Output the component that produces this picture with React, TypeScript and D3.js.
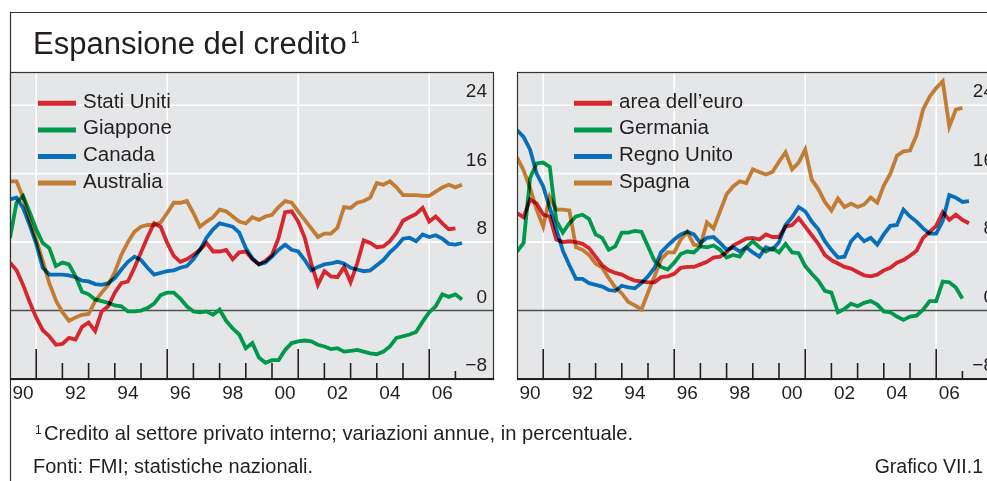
import React, { useEffect, useRef } from 'react';
import * as d3 from 'd3';

// quarterly observations, first one is 1990 Q1
const startYear = 1990;

const statiUniti = [5.6, 4.7, 3.0, 1.0, -0.8, -2.3, -3.0, -4.0, -3.9, -3.2, -3.4, -1.9, -1.4, -2.4, -0.1, 0.5, 2.1, 3.2, 3.4, 5.0, 6.8, 8.6, 10.2, 9.8, 7.9, 6.4, 5.7, 6.0, 6.5, 7.1, 7.9, 6.9, 6.9, 7.1, 6.0, 6.8, 6.9, 6.0, 5.4, 5.8, 6.5, 8.5, 11.5, 11.6, 10.4, 8.5, 5.5, 3.0, 4.6, 4.0, 3.9, 5.1, 3.3, 5.5, 8.2, 7.9, 7.4, 7.5, 8.1, 9.1, 10.5, 10.9, 11.3, 12.0, 10.4, 11.0, 10.2, 9.5, 9.6];
const giappone = [8.5, 12.6, 13.4, 11.5, 9.5, 7.9, 7.3, 5.2, 5.6, 5.4, 4.0, 2.2, 1.9, 1.3, 1.1, 0.9, 0.6, 0.5, -0.1, -0.1, 0.0, 0.3, 0.8, 1.8, 2.1, 2.1, 1.4, 0.5, -0.1, -0.2, -0.1, -0.5, 0.1, -1.2, -2.1, -2.8, -4.4, -3.8, -5.5, -6.1, -5.8, -5.8, -4.6, -3.8, -3.6, -3.5, -3.6, -4.0, -4.2, -4.5, -4.4, -4.8, -4.7, -4.6, -4.8, -5.0, -5.1, -4.8, -4.2, -3.2, -3.0, -2.8, -2.5, -1.3, -0.2, 0.5, 1.9, 1.6, 1.9, 1.3];
const canada = [13.0, 13.2, 12.0, 10.0, 7.8, 5.0, 4.2, 4.2, 4.2, 4.1, 3.9, 3.5, 3.4, 3.1, 3.0, 3.2, 3.8, 4.8, 5.7, 6.3, 5.9, 5.0, 4.2, 4.4, 4.6, 4.7, 5.0, 5.2, 6.0, 7.1, 8.5, 9.5, 10.2, 10.0, 9.8, 9.1, 7.3, 6.1, 5.4, 5.6, 6.3, 7.1, 7.7, 7.1, 6.9, 5.9, 4.7, 5.1, 5.4, 5.5, 5.7, 5.5, 5.0, 4.8, 4.6, 4.7, 5.3, 5.9, 6.8, 7.5, 8.4, 8.5, 8.1, 8.9, 8.6, 8.8, 8.4, 7.8, 7.7, 7.9];
const australia = [15.1, 15.1, 13.2, 10.5, 8.3, 5.8, 3.2, 1.2, -0.2, -1.2, -0.8, -0.5, -0.4, 1.1, 2.1, 3.0, 4.5, 6.5, 8.0, 9.2, 9.8, 10.0, 10.0, 10.3, 11.4, 12.6, 12.6, 12.8, 11.4, 9.8, 10.4, 10.9, 11.8, 11.6, 11.0, 10.4, 10.2, 10.9, 10.6, 11.0, 11.2, 12.1, 12.8, 12.6, 11.6, 10.6, 9.6, 8.6, 9.0, 9.0, 9.7, 12.1, 12.0, 12.6, 12.8, 13.2, 14.9, 14.7, 15.1, 14.4, 13.5, 13.5, 13.5, 13.4, 13.4, 13.9, 14.4, 14.7, 14.4, 14.7];

const areaEuro = [11.4, 10.9, 13.0, 12.5, 11.2, 11.0, 8.3, 8.0, 8.1, 8.0, 7.8, 7.3, 6.3, 5.3, 4.7, 4.4, 4.2, 3.8, 3.5, 3.4, 3.3, 3.3, 3.9, 4.0, 4.3, 5.0, 5.1, 5.1, 5.4, 5.7, 6.2, 6.3, 6.8, 7.6, 8.0, 8.4, 8.5, 8.3, 8.9, 8.6, 8.6, 9.8, 10.0, 10.8, 9.8, 8.8, 7.8, 6.5, 5.9, 5.5, 5.1, 4.9, 4.5, 4.1, 4.0, 4.2, 4.7, 5.0, 5.6, 5.9, 6.4, 7.0, 8.5, 9.2, 9.9, 11.5, 10.6, 11.2, 10.6, 10.2];
const germania = [6.9, 7.9, 15.5, 17.2, 17.3, 16.8, 10.5, 9.1, 10.2, 11.0, 11.2, 10.7, 8.9, 8.5, 7.1, 7.5, 9.1, 9.1, 9.3, 9.2, 7.5, 5.8, 5.1, 4.8, 5.6, 6.6, 6.9, 6.8, 7.5, 7.4, 7.6, 7.1, 6.2, 6.5, 6.3, 7.4, 8.1, 7.4, 6.9, 7.3, 6.8, 7.8, 6.8, 6.7, 5.2, 4.3, 3.5, 2.3, 2.1, -0.2, 0.2, 0.8, 0.5, 0.9, 1.1, 0.7, -0.1, -0.2, -0.7, -1.1, -0.7, -0.6, 0.1, 1.1, 1.1, 3.4, 3.3, 2.7, 1.4];
const regnoUnito = [21.1, 20.3, 18.8, 16.0, 14.5, 12.0, 9.5, 7.0, 5.3, 3.7, 3.7, 3.2, 3.0, 2.8, 2.4, 2.3, 2.9, 2.7, 2.6, 3.2, 4.0, 5.0, 6.8, 7.6, 8.3, 8.9, 9.2, 8.9, 7.9, 8.5, 8.6, 7.9, 7.1, 7.4, 6.9, 7.4, 6.8, 6.3, 7.4, 7.1, 8.0, 10.0, 10.9, 12.1, 11.6, 10.4, 9.5, 8.1, 7.1, 6.2, 6.3, 8.1, 8.9, 8.1, 8.5, 7.7, 8.9, 9.9, 10.0, 11.8, 11.0, 10.4, 9.6, 9.0, 9.0, 10.5, 13.5, 13.2, 12.7, 12.8];
const spagna = [17.9, 16.4, 14.3, 11.8, 9.8, 13.3, 11.8, 11.8, 11.7, 7.4, 7.1, 6.5, 5.5, 5.0, 3.8, 2.7, 2.0, 1.0, 0.6, 0.1, 2.1, 4.0, 6.0, 6.8, 6.8, 8.3, 9.2, 7.7, 7.6, 10.3, 9.6, 11.6, 13.6, 14.5, 15.1, 14.9, 16.5, 16.2, 15.9, 16.2, 17.4, 18.5, 16.5, 17.3, 18.8, 15.3, 14.2, 12.7, 11.7, 13.1, 12.1, 12.5, 12.1, 12.4, 13.2, 12.6, 14.6, 16.0, 18.1, 18.6, 18.7, 20.5, 23.5, 25.0, 26.0, 26.8, 21.5, 23.5, 23.7];

const yTicks = [24, 16, 8, 0, -8];
const yearLabels = ['90', '92', '94', '96', '98', '00', '02', '04', '06'];
const labelYears = [1990, 1992, 1994, 1996, 1998, 2000, 2002, 2004, 2006];
const majorYears = [1991, 1996, 2001, 2006];
const minorYears = [1992, 1993, 1994, 1995, 1997, 1998, 1999, 2000, 2002, 2003, 2004, 2005];
const shortYears = [2007];

const RED = '#d6262e';
const GREEN = '#00984a';
const BLUE = '#0a6fba';
const ORANGE = '#c27c34';

const leftSeries = [
  { name: 'Stati Uniti', color: RED, values: statiUniti },
  { name: 'Giappone', color: GREEN, values: giappone },
  { name: 'Canada', color: BLUE, values: canada },
  { name: 'Australia', color: ORANGE, values: australia },
];
const rightSeries = [
  { name: 'area dell\u2019euro', color: RED, values: areaEuro },
  { name: 'Germania', color: GREEN, values: germania },
  { name: 'Regno Unito', color: BLUE, values: regnoUnito },
  { name: 'Spagna', color: ORANGE, values: spagna },
];

const FONT = '"Liberation Sans", Arial, Helvetica, sans-serif';
const TXT = '#231f20';

type Series = { name: string; color: string; values: number[] };

export default function App() {
  const ref = useRef<SVGSVGElement>(null);

  useEffect(() => {
    const svg = d3.select(ref.current);
    svg.selectAll('*').remove();

    const top = 72;
    const bottom = 379;
    const y = d3.scaleLinear().domain([-8, 28]).range([bottom, 71]);

    // outer frame
    svg.append('line').attr('x1', 10).attr('x2', 987).attr('y1', 12.5).attr('y2', 12.5)
      .attr('stroke', '#333').attr('stroke-width', 1.2);
    svg.append('line').attr('x1', 10.5).attr('x2', 10.5).attr('y1', 12).attr('y2', 481)
      .attr('stroke', '#333').attr('stroke-width', 1.2);

    const title = svg.append('text').attr('x', 33).attr('y', 54)
      .attr('font-family', FONT).attr('font-size', 31).attr('fill', TXT)
      .text('Espansione del credito');
    title.append('tspan').attr('font-size', 16).attr('dy', -11).attr('dx', 4).text('1');

    const drawPanel = (x0: number, series: Series[], legendX: number, id: string) => {
      const x = d3.scaleLinear().domain([startYear, 2008.5]).range([x0, x0 + 18.5 * 26.2]);
      const x1 = x0 + 484;
      const g = svg.append('g');

      g.append('rect').attr('x', x0).attr('y', top).attr('width', x1 - x0).attr('height', bottom - top)
        .attr('fill', '#e5e6e8');

      g.selectAll('.hgrid').data([8, 16, 24]).enter().append('line')
        .attr('x1', x0).attr('x2', x1).attr('y1', (d) => y(d)).attr('y2', (d) => y(d))
        .attr('stroke', '#fff').attr('stroke-width', 1.6);
      g.selectAll('.vgrid').data(majorYears).enter().append('line')
        .attr('x1', (d) => x(d)).attr('x2', (d) => x(d)).attr('y1', top).attr('y2', bottom)
        .attr('stroke', '#fff').attr('stroke-width', 1.6);

      g.append('line').attr('x1', x0).attr('x2', x1).attr('y1', y(0)).attr('y2', y(0))
        .attr('stroke', '#505050').attr('stroke-width', 1.5);

      // ticks
      const tickData = [
        ...majorYears.map((d) => ({ d, len: 30 })),
        ...minorYears.map((d) => ({ d, len: 16 })),
        ...shortYears.map((d) => ({ d, len: 8 })),
      ];
      g.selectAll('.tick').data(tickData).enter().append('line')
        .attr('x1', (t) => x(t.d)).attr('x2', (t) => x(t.d))
        .attr('y1', bottom).attr('y2', (t) => bottom - t.len)
        .attr('stroke', '#231f20').attr('stroke-width', 1.6);

      g.append('clipPath').attr('id', id).append('rect')
        .attr('x', x0).attr('y', top).attr('width', x1 - x0).attr('height', bottom - top);

      const line = d3.line<number>()
        .x((d, i) => x(startYear + i / 4))
        .y((d) => y(d))
        .curve(d3.curveLinear);

      const lines = g.append('g').attr('clip-path', `url(#${id})`).style('isolation', 'isolate');
      lines.selectAll('path').data(series).enter().append('path')
        .attr('d', (s) => line(s.values))
        .attr('fill', 'none')
        .attr('stroke', (s) => s.color)
        .attr('stroke-width', 3.8)
        .attr('stroke-linejoin', 'miter')
        .style('mix-blend-mode', 'multiply');

      // frame
      g.append('rect').attr('x', x0 + 0.5).attr('y', top + 0.5).attr('width', x1 - x0 - 1).attr('height', bottom - top)
        .attr('fill', 'none').attr('stroke', '#333').attr('stroke-width', 1.2);
      g.append('line').attr('x1', x0).attr('x2', x1).attr('y1', bottom).attr('y2', bottom)
        .attr('stroke', '#231f20').attr('stroke-width', 2.2);

      // y labels
      g.selectAll('.ylab').data(yTicks).enter().append('text')
        .attr('x', x1 - 7).attr('y', (d) => y(d) - 8)
        .attr('text-anchor', 'end')
        .attr('font-family', FONT).attr('font-size', 19).attr('fill', TXT)
        .text((d) => (d < 0 ? '\u2212' + Math.abs(d) : String(d)));

      // x labels
      g.selectAll('.xlab').data(labelYears).enter().append('text')
        .attr('x', (d) => x(d + 0.5)).attr('y', 399)
        .attr('text-anchor', 'middle')
        .attr('font-family', FONT).attr('font-size', 19).attr('fill', TXT)
        .text((d, i) => yearLabels[i]);

      // legend
      const leg = g.selectAll('.leg').data(series).enter().append('g')
        .attr('transform', (d, i) => `translate(${legendX},${103.3 + i * 26.6})`);
      leg.append('line').attr('x1', 0).attr('x2', 38).attr('y1', 0).attr('y2', 0)
        .attr('stroke', (s) => s.color).attr('stroke-width', 5);
      leg.append('text').attr('x', 45).attr('y', 4.5)
        .attr('font-family', FONT).attr('font-size', 20.5).attr('fill', TXT)
        .text((s) => s.name);
    };

    drawPanel(10, leftSeries, 38, 'clipL');
    drawPanel(517, rightSeries, 574, 'clipR');

    // footnotes
    svg.append('text').attr('x', 35).attr('y', 434)
      .attr('font-family', FONT).attr('font-size', 12).attr('fill', TXT).text('1');
    svg.append('text').attr('x', 44).attr('y', 440)
      .attr('font-family', FONT).attr('font-size', 20.2).attr('fill', TXT)
      .text('Credito al settore privato interno; variazioni annue, in percentuale.');
    svg.append('text').attr('x', 33).attr('y', 473)
      .attr('font-family', FONT).attr('font-size', 20).attr('fill', TXT)
      .text('Fonti: FMI; statistiche nazionali.');
    svg.append('text').attr('x', 983).attr('y', 473).attr('text-anchor', 'end')
      .attr('font-family', FONT).attr('font-size', 19.5).attr('fill', TXT)
      .text('Grafico VII.1');
  }, []);

  return (
    <svg
      ref={ref}
      width={987}
      height={481}
      style={{ position: 'absolute', left: 0, top: 0, background: '#fff' }}
    />
  );
}
